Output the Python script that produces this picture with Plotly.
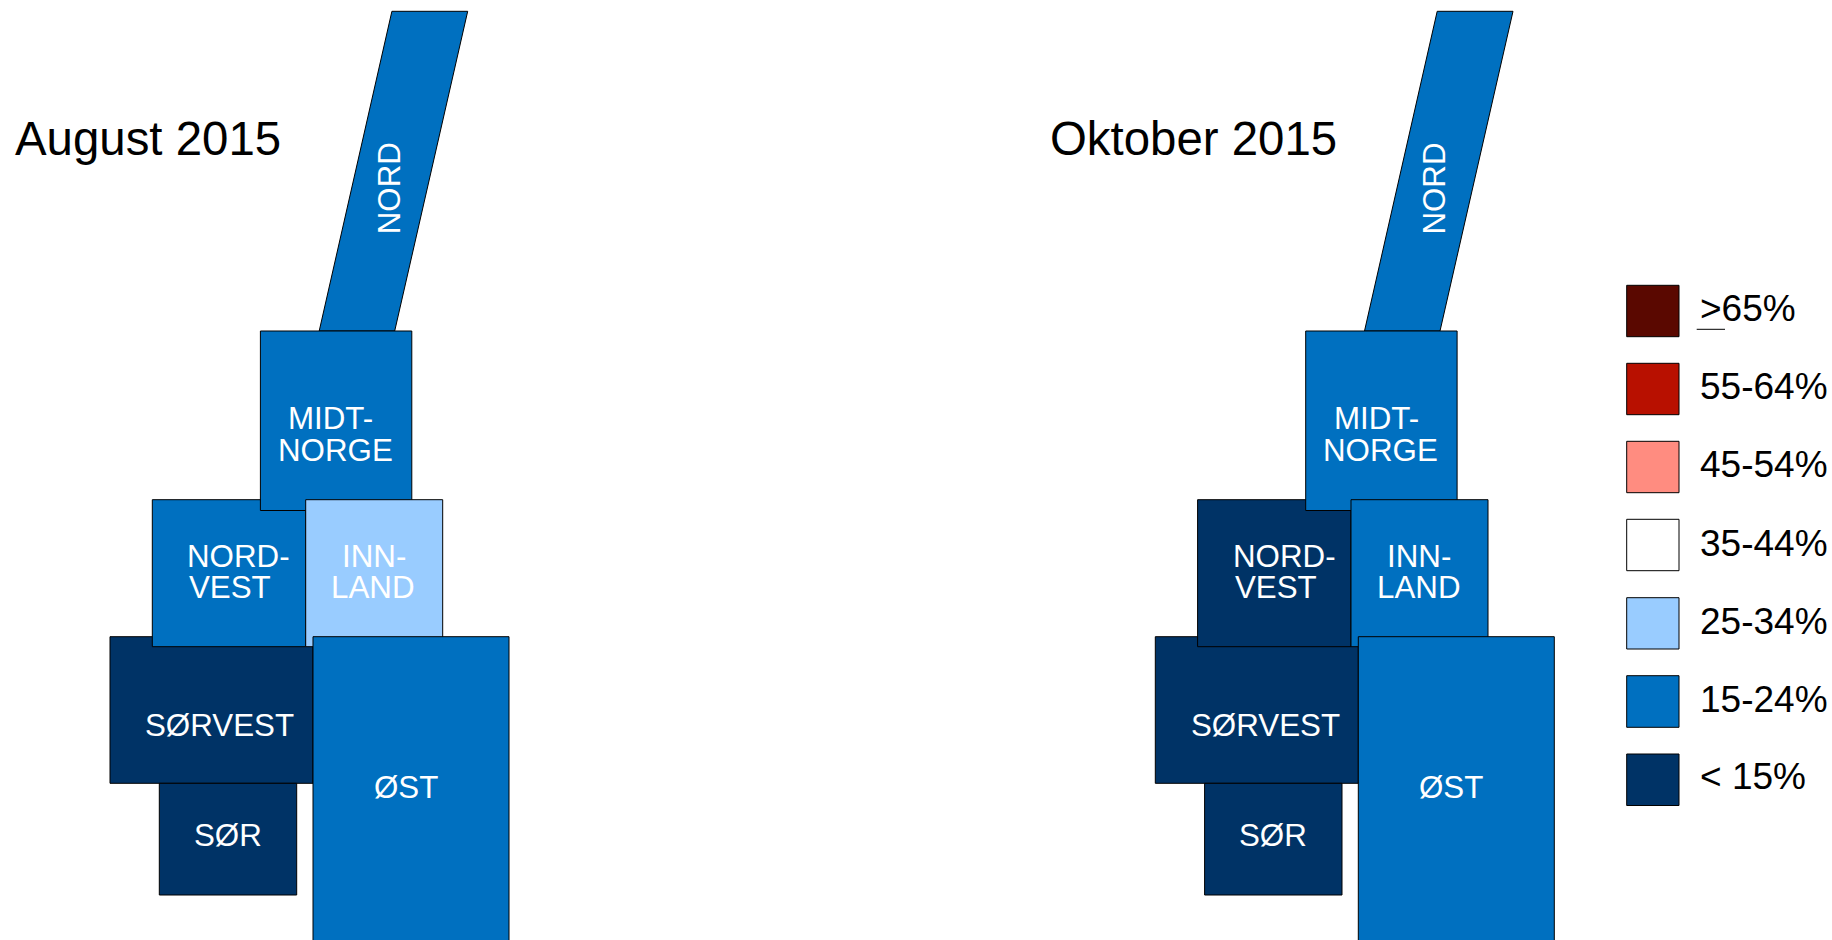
import plotly.graph_objects as go

FONT = "Liberation Sans"
BG = "#FFFFFF"
W, H = 1832, 940

# Legend classes
class_labels = [">65%", "55-64%", "45-54%", "35-44%", "25-34%", "15-24%", "< 15%"]
class_colors = ["#5A0800", "#B81000", "#FF8C80", "#FFFFFF", "#99CCFF", "#0070C0", "#003366"]

# Panels
panel_titles = ["August 2015", "Oktober 2015"]
panel_offsets = [0, 1045.3]
title_x = [12.5, 1048]

# Regions, in draw order (later ones sit on top)
regions = ["SØRVEST", "NORDVEST", "SØR", "NORD", "MIDT", "INNLAND", "ØST"]
august_class = ["< 15%", "15-24%", "< 15%", "15-24%", "15-24%", "25-34%", "15-24%"]
oktober_class = ["< 15%", "< 15%", "< 15%", "15-24%", "15-24%", "15-24%", "15-24%"]

# Tile outlines in map units
region_x = [
    [110, 313, 313, 110],
    [152.3, 305.7, 305.7, 152.3],
    [159.3, 296.7, 296.7, 159.3],
    [391.9, 467.7, 394.7, 319.2],
    [260.4, 411.8, 411.8, 260.4],
    [305.7, 442.7, 442.7, 305.7],
    [313, 509, 509, 313],
]
region_y = [
    [636.7, 636.7, 783.3, 783.3],
    [499.7, 499.7, 646.7, 646.7],
    [783.3, 783.3, 895, 895],
    [11.3, 11.3, 331, 331],
    [331, 331, 510.5, 510.5],
    [499.7, 499.7, 646.7, 646.7],
    [636.7, 636.7, 1000, 1000],
]

# Tile labels: text, x, y, angle
label_text = ["NORD", "MIDT-", "NORGE", "NORD-", "VEST", "INN-", "LAND", "SØRVEST", "ØST", "SØR"]
label_x = [389.5, 330.8, 335.3, 238.7, 230.3, 373.7, 372.7, 219.8, 406, 228]
label_y = [188.8, 418.5, 450.5, 556, 587.7, 556, 587.7, 725, 787.7, 835.5]
label_angle = [-90, 0, 0, 0, 0, 0, 0, 0, 0, 0]

# Legend placement in map units
legend_x0, legend_x1 = 1626.7, 1679
legend_top = [285.3, 363.3, 441.3, 519.3, 597.7, 675.7, 754]
legend_bottom = [336.7, 414.7, 492.7, 570.7, 649, 727.3, 805.5]
legend_text_x = 1697.5
legend_text_y = [308, 386.3, 464, 543, 621, 699, 776.7]
underline_x = [1696.7, 1725]
underline_y = [329.3, 329.3]

color_of = dict(zip(class_labels, class_colors))
fig = go.Figure()


def closed(values):
    return list(values) + [values[0]]


for offset, classes in zip(panel_offsets, [august_class, oktober_class]):
    for name, xs, ys, cls in zip(regions, region_x, region_y, classes):
        fig.add_trace(go.Scatter(
            x=closed([v + offset for v in xs]), y=closed(ys), mode="lines", fill="toself",
            fillcolor=color_of[cls], line=dict(color="#000000", width=1),
            name=name, hoverinfo="skip", showlegend=False,
        ))

for cls, top, bottom in zip(class_labels, legend_top, legend_bottom):
    fig.add_trace(go.Scatter(
        x=[legend_x0, legend_x1, legend_x1, legend_x0, legend_x0],
        y=[top, top, bottom, bottom, top], mode="lines", fill="toself",
        fillcolor=color_of[cls], line=dict(color="#000000", width=1),
        name=cls, hoverinfo="skip", showlegend=False,
    ))

fig.add_trace(go.Scatter(
    x=underline_x, y=underline_y, mode="lines",
    line=dict(color="#000000", width=1), hoverinfo="skip", showlegend=False,
))

annotations = []
for title, x in zip(panel_titles, title_x):
    annotations.append(dict(
        x=x, y=138, text=title, showarrow=False, xanchor="left", yanchor="middle",
        font=dict(family=FONT, size=47.4, color="#000000"),
    ))
for offset in panel_offsets:
    for text, x, y, angle in zip(label_text, label_x, label_y, label_angle):
        annotations.append(dict(
            x=x + offset, y=y, text=text, showarrow=False, textangle=angle,
            xanchor="center", yanchor="middle",
            font=dict(family=FONT, size=31.3, color="#FFFFFF"),
        ))
for cls, y in zip(class_labels, legend_text_y):
    annotations.append(dict(
        x=legend_text_x, y=y, text=cls.replace("<", "&lt;"), showarrow=False,
        xanchor="left", yanchor="middle",
        font=dict(family=FONT, size=37, color="#000000"),
    ))

axis = dict(visible=False, showgrid=False, zeroline=False, fixedrange=True)
fig.update_layout(
    width=W, height=H, autosize=False,
    margin=dict(l=0, r=0, t=0, b=0, pad=0),
    paper_bgcolor=BG, plot_bgcolor=BG,
    xaxis=dict(range=[0, W], **axis),
    yaxis=dict(range=[H, 0], **axis),
    annotations=annotations,
    showlegend=False,
)

fig.write_html(
    "out.html",
    config=dict(displayModeBar=False, responsive=False),
    post_script="document.body.style.margin='0';document.body.style.overflow='hidden';",
)
